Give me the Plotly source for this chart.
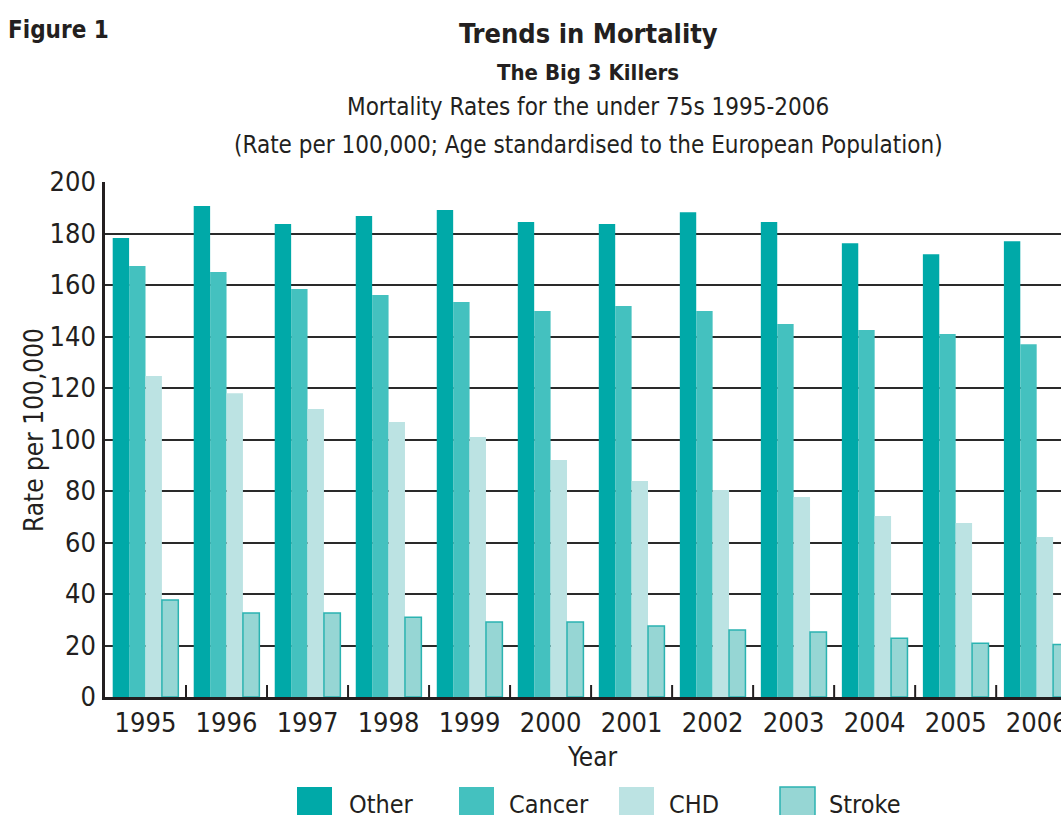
import plotly.graph_objects as go

years = ["1995", "1996", "1997", "1998", "1999", "2000", "2001", "2002", "2003", "2004", "2005", "2006"]
other = [178.3, 190.7, 183.7, 186.8, 189.1, 184.5, 183.7, 188.3, 184.5, 176.2, 171.9, 177.0]
cancer = [167.4, 165.0, 158.4, 156.1, 153.4, 149.9, 151.8, 149.9, 144.9, 142.5, 141.0, 137.0]
chd = [124.7, 118.0, 111.8, 106.8, 101.0, 92.0, 83.9, 80.4, 77.7, 70.3, 67.6, 62.1]
stroke = [37.7, 32.6, 32.6, 31.0, 29.1, 29.1, 27.6, 26.0, 25.2, 22.8, 20.9, 20.4]

series_names = ["Other", "Cancer", "CHD", "Stroke"]
series_values = [other, cancer, chd, stroke]
fills = ["#00A9A8", "#44C1BF", "#BCE3E3", "#96D6D4"]
lines = ["#00A9A8", "#44C1BF", "#BCE3E3", "#2BB3B1"]
line_w = [0, 0, 0, 1.5]

FONT = "DejaVu Sans Condensed, Liberation Sans Narrow, sans-serif"
TXT = "#231F20"

W, H = 1061, 815
ML, MR, MT, MB = 105, 0, 182, 118
PW, PH = W - ML - MR, H - MT - MB

x_idx = list(range(len(years)))

fig = go.Figure()
for name, vals, fc, lc, lw in zip(series_names, series_values, fills, lines, line_w):
    fig.add_trace(go.Bar(
        x=x_idx, y=vals, name=name,
        marker=dict(color=fc, line=dict(color=lc, width=lw)),
        showlegend=False,
    ))

fig.update_layout(
    width=W, height=H,
    margin=dict(l=ML, r=MR, t=MT, b=MB, pad=0, autoexpand=False),
    paper_bgcolor="white", plot_bgcolor="white",
    barmode="group", bargap=0.19, bargroupgap=0,
    font=dict(family=FONT, color=TXT, size=26),
)

fig.update_xaxes(
    range=[-0.5, 11.3], automargin=False,
    tickmode="array", tickvals=x_idx, ticktext=years,
    ticklabeloverflow="allow",
    showgrid=False, showline=True, linecolor="#231F20", linewidth=2.5,
    ticks="", tickfont=dict(size=27, family=FONT, color=TXT),
    zeroline=False,
)
fig.update_yaxes(
    range=[0, 200], tickvals=list(range(0, 201, 20)), automargin=False,
    showgrid=True, gridcolor="#2a2a2a", gridwidth=1.6,
    showline=True, linecolor="#231F20", linewidth=2.5,
    ticks="", ticklabelstandoff=1, tickfont=dict(size=27, family=FONT, color=TXT),
    zeroline=False,
)


def px_x(p):
    # figure pixel -> paper coordinate
    return (p - ML) / PW


def px_y(p):
    return (H - MB - p) / PH


# category boundary tick marks (inside, pointing up from the axis)
shapes = []
for i in range(len(years)):
    xb = i + 0.5
    shapes.append(dict(type="line", xref="x", yref="paper", x0=xb, x1=xb,
                       y0=0, y1=12 / PH, line=dict(color="#231F20", width=2)))

# manual legend
legend_items = [(297, 347), (459, 507), (619, 667), (780, 827)]
for (sx, tx), name, fc, lc, lw in zip(legend_items, series_names, fills, lines, line_w):
    shapes.append(dict(type="rect", xref="paper", yref="paper",
                       x0=px_x(sx), x1=px_x(sx + 35), y0=px_y(787), y1=px_y(824),
                       fillcolor=fc, line=dict(color=lc if lw else fc, width=lw if lw else 0)))


def ann(text, x, y, size, xanchor="center", bold=False, angle=0):
    return dict(text=text, xref="paper", yref="paper", x=px_x(x), y=px_y(y),
                xanchor=xanchor, yanchor="middle", textangle=angle,
                font=dict(size=size, family=FONT, color=TXT, weight="bold" if bold else "normal"),
                showarrow=False)


annotations = [
    ann("Figure 1", 6, 30, 24, xanchor="left", bold=True),
    ann("Trends in Mortality", 588, 33, 27, bold=True),
    ann("The Big 3 Killers", 588, 72, 22, bold=True),
    ann("Mortality Rates for the under 75s 1995-2006", 588, 107, 24),
    ann("(Rate per 100,000; Age standardised to the European Population)", 588, 145, 24),
    ann("Year", 592, 757, 26),
    ann("Rate per 100,000", 34, 430, 26, angle=-90),
]
for (sx, tx), name in zip(legend_items, series_names):
    annotations.append(ann(name, tx, 804, 25, xanchor="left"))

fig.update_layout(shapes=shapes, annotations=annotations)

# remove the browser's default 8px page margin so the figure fills the window exactly
fig.write_html(
    "out.html",
    config={"displayModeBar": False},
    post_script="document.body.style.margin='0';document.body.style.overflow='hidden';",
)
